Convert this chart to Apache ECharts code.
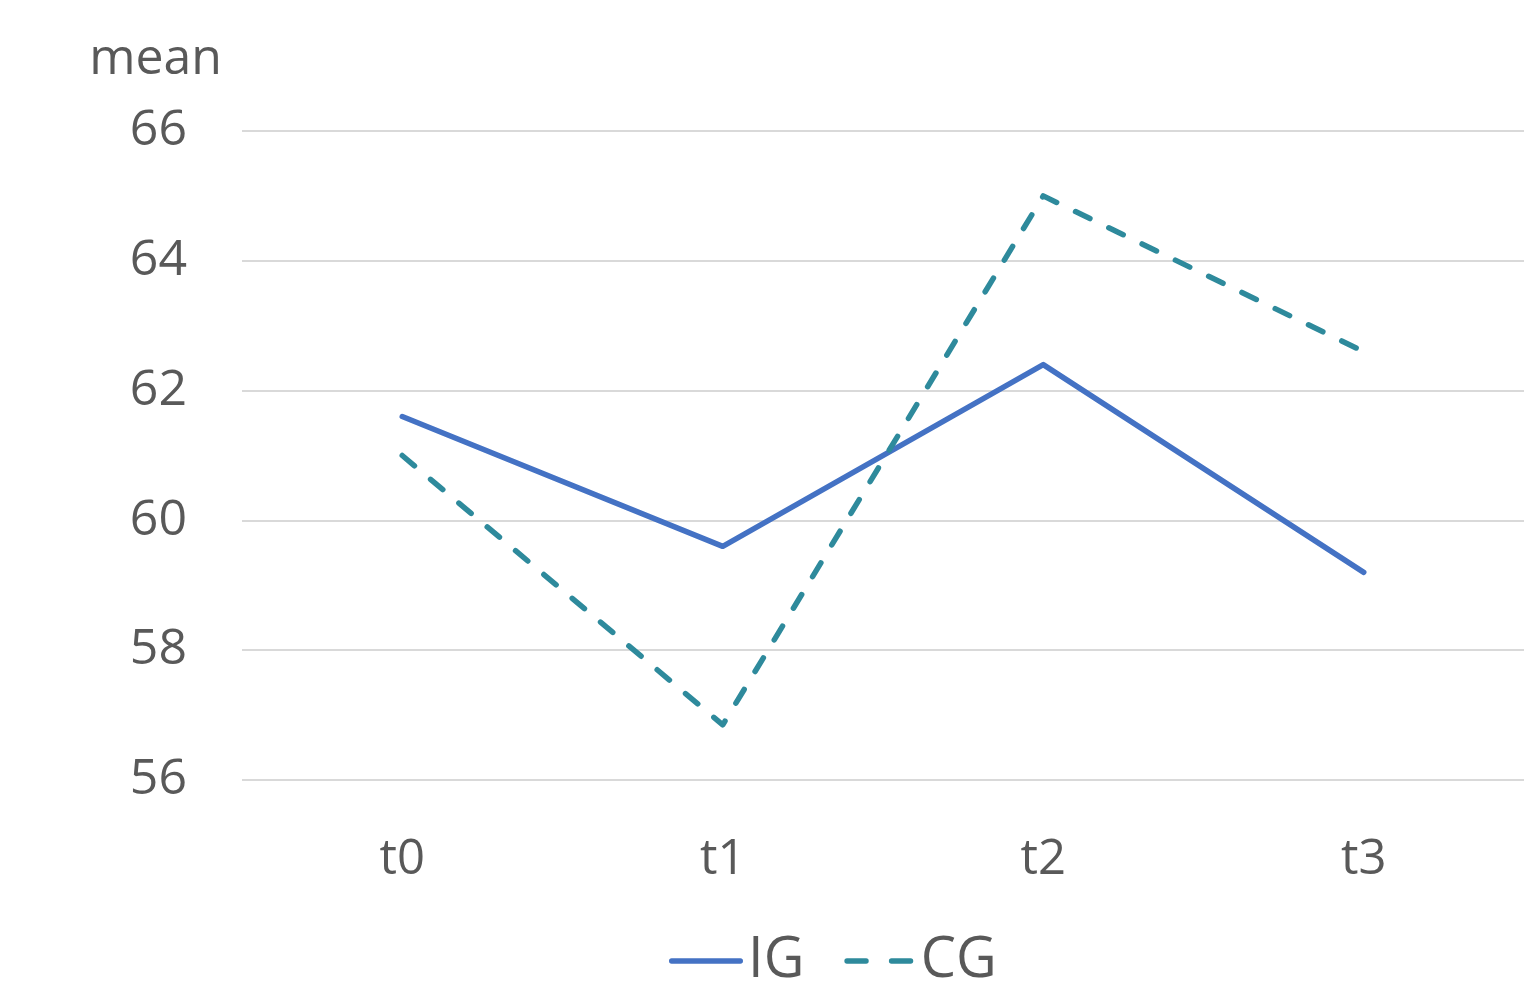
<!DOCTYPE html>
<html><head><meta charset="utf-8">
<script src="https://cdn.jsdelivr.net/npm/echarts@6/dist/echarts.min.js"></script>
<style>html,body{margin:0;padding:0;background:#fff}#c{width:1528px;height:994px}</style>
</head><body><div id="c"></div>
<script>
const categories = ['t0', 't1', 't2', 't3'];
const igValues = [61.6, 59.6, 62.4, 59.2];
const cgValues = [61.0, 56.85, 65.0, 62.6];
const yTicks = [56, 58, 60, 62, 64, 66];

const FONT = '"Open Sans", "Noto Sans", sans-serif';
const IG_COLOR = '#4472C4';
const CG_COLOR = '#2E8A9C';
const chart = echarts.init(document.getElementById('c'), null, {renderer: 'canvas'});
chart.setOption({
  animation: false,
  textStyle: {fontFamily: FONT},
  grid: {left: 242, right: 4, top: 131, bottom: 214, containLabel: false},
  xAxis: {
    type: 'category', data: categories, boundaryGap: true,
    axisLine: {show: false}, axisTick: {show: false},
    axisLabel: {fontSize: 49, color: '#595959', margin: 56, fontFamily: FONT}
  },
  yAxis: {
    type: 'value', min: yTicks[0], max: yTicks[yTicks.length - 1], interval: 2,
    name: 'mean', nameLocation: 'end', nameGap: 46,
    nameTextStyle: {fontSize: 50, color: '#595959', align: 'right', padding: [0, 20, 0, 0], fontFamily: FONT},
    axisLine: {show: false}, axisTick: {show: false},
    axisLabel: {fontSize: 50, color: '#595959', margin: 55, fontFamily: FONT},
    splitLine: {lineStyle: {color: '#d9d9d9', width: 2}}
  },
  legend: {
    bottom: 0, left: 664, itemWidth: 74, itemHeight: 5.3, itemGap: 40,
    textStyle: {fontSize: 56, color: '#595959', fontFamily: FONT, padding: [0, 0, 0, 0]},
    data: [
      {name: 'IG', icon: 'path://M2.5,0H67.5A2.5,2.5 0 0 1 67.5,5H2.5A2.5,2.5 0 0 1 2.5,0Z', itemStyle: {color: IG_COLOR}},
      {name: 'CG', icon: 'path://M2.5,0H20.5A2.5,2.5 0 0 1 20.5,5H2.5A2.5,2.5 0 0 1 2.5,0Z M44.5,0H62.5A2.5,2.5 0 0 1 62.5,5H44.5A2.5,2.5 0 0 1 44.5,0Z', itemStyle: {color: CG_COLOR}}
    ]
  },
  series: [
    {name: 'IG', type: 'line', data: igValues, symbol: 'none',
     lineStyle: {color: IG_COLOR, width: 5.5, cap: 'round', join: 'round'},
     itemStyle: {color: IG_COLOR}},
    {name: 'CG', type: 'line', data: cgValues, symbol: 'none',
     lineStyle: {color: CG_COLOR, width: 5.5, type: [16, 21], cap: 'round', join: 'round'},
     itemStyle: {color: CG_COLOR}}
  ]
});
</script></body></html>
